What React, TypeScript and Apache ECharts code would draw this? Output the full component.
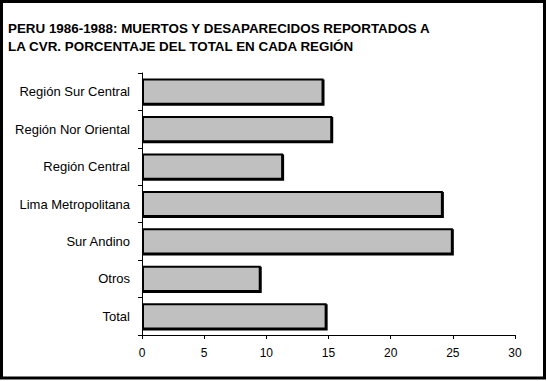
import React, { useEffect, useRef } from "react";
import * as echarts from "echarts";

const titleLines = [
  "PERU 1986-1988: MUERTOS Y DESAPARECIDOS REPORTADOS A",
  "LA CVR. PORCENTAJE DEL TOTAL EN CADA REGIÓN",
];
const categories = [
  "Región Sur Central",
  "Región Nor Oriental",
  "Región Central",
  "Lima Metropolitana",
  "Sur Andino",
  "Otros",
  "Total",
];
const values = [14.6, 15.3, 11.35, 24.2, 25.0, 9.55, 14.85];
const xMin = 0;
const xMax = 30;
const xInterval = 5;

export default function App() {
  const ref = useRef<HTMLDivElement>(null);
  useEffect(() => {
    if (!ref.current) return;
    const chart = echarts.init(ref.current, null, { renderer: "svg" });
    const font = "Arial, 'Liberation Sans', sans-serif";
    chart.setOption({
      animation: false,
      backgroundColor: "#ffffff",
      title: {
        text: titleLines.join("\n"),
        left: 3,
        top: 14,
        textStyle: {
          fontFamily: font,
          fontSize: 13.4,
          fontWeight: "bold",
          color: "#000",
          lineHeight: 18,
        },
      },
      graphic: [
        {
          type: "rect",
          shape: { x: 1.5, y: 1.5, width: 543, height: 376.5 },
          style: { fill: "none", stroke: "#000", lineWidth: 3 },
          silent: true,
        },
      ],
      grid: { left: 142, right: 32, top: 73, bottom: 46 },
      xAxis: {
        type: "value",
        min: xMin,
        max: xMax,
        interval: xInterval,
        splitLine: { show: false },
        axisLine: { show: true, lineStyle: { color: "#000", width: 1 } },
        axisTick: { show: true, length: 4, lineStyle: { color: "#000" } },
        axisLabel: { color: "#000", fontFamily: font, fontSize: 12, margin: 12 },
      },
      yAxis: {
        type: "category",
        data: categories,
        inverse: true,
        axisLine: { show: true, lineStyle: { color: "#000", width: 1 } },
        axisTick: { show: true, length: 4, lineStyle: { color: "#000" } },
        axisLabel: { color: "#000", fontFamily: font, fontSize: 13, margin: 12 },
      },
      series: [
        {
          type: "bar",
          data: values,
          barCategoryGap: "30%",
          itemStyle: {
            color: "#c0c0c0",
            borderColor: "#000",
            borderWidth: 2,
            shadowColor: "#000",
            shadowOffsetX: 1,
            shadowOffsetY: 1,
            shadowBlur: 0,
          },
        },
      ],
    });
    return () => chart.dispose();
  }, []);
  return (
    <div
      ref={ref}
      style={{ position: "fixed", left: 0, top: 0, width: 547, height: 381 }}
    />
  );
}
